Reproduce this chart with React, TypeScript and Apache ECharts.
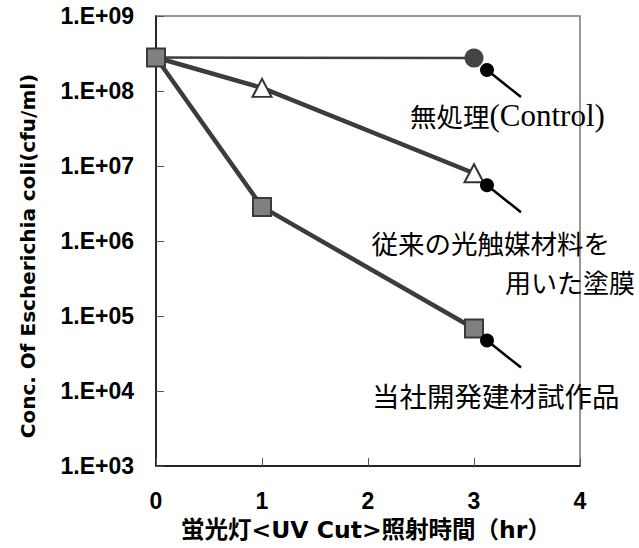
import React, { useEffect, useRef } from "react";
import * as echarts from "echarts";

const xTicks = [0, 1, 2, 3, 4];
const controlX = [0, 3];
const controlY = [2.8e8, 2.75e8];
const conventionalX = [0, 1, 3];
const conventionalY = [2.8e8, 1.1e8, 8.0e6];
const productX = [0, 1, 3];
const productY = [2.8e8, 2.85e6, 6.8e4];
const yAxisName = "Conc. Of Escherichia coli(cfu/ml)";
const xAxisName = "蛍光灯<UV Cut>照射時間（hr）";
const labelControlJa = "無処理";
const labelControlEn = "(Control)";
const labelConv1 = "従来の光触媒材料を";
const labelConv2 = "用いた塗膜";
const labelProduct = "当社開発建材試作品";

const pairs = (xs: number[], ys: number[]) => xs.map((x, i) => [x, ys[i]]);

export default function App() {
  const ref = useRef<HTMLDivElement>(null);
  useEffect(() => {
    if (!ref.current) return;
    const chart = echarts.init(ref.current, null, { renderer: "svg" });
    const lineColor = "#3c3c3c";
    chart.setOption({
      animation: false,
      backgroundColor: "#ffffff",
      grid: {
        left: 156,
        right: 59,
        top: 16,
        bottom: 82,
        containLabel: false,
        outerBoundsMode: "none",
        show: true,
        borderColor: "#777777",
        borderWidth: 1.5,
        backgroundColor: "transparent",
      },
      xAxis: {
        type: "value",
        min: xTicks[0],
        max: xTicks[xTicks.length - 1],
        interval: 1,
        axisLine: { show: true, lineStyle: { color: "#000", width: 1.5 } },
        axisTick: { show: true, inside: true, length: 8, lineStyle: { color: "#555", width: 1 } },
        splitLine: { show: false },
        axisLabel: {
          margin: 25,
          fontFamily: "Liberation Sans",
          fontWeight: "bold",
          fontSize: 23,
          lineHeight: 20,
          color: "#000",
        },
      },
      yAxis: {
        type: "log",
        logBase: 10,
        min: 1e3,
        max: 1e9,
        axisLine: { show: true, lineStyle: { color: "#000", width: 1.5 } },
        axisTick: { show: true, inside: true, length: 8, lineStyle: { color: "#555", width: 1 } },
        splitLine: { show: false },
        minorTick: { show: false },
        axisLabel: {
          margin: 22,
          fontFamily: "Liberation Sans",
          fontWeight: "bold",
          fontSize: 23,
          color: "#000",
          formatter: (v: number) => {
            const e = Math.round(Math.log10(v));
            return "1.E+" + (e < 10 ? "0" + e : String(e));
          },
        },
      },
      series: [
        {
          type: "line",
          data: pairs(controlX, controlY),
          symbol: (v: number[]) => (v[0] === 0 ? "none" : "circle"),
          symbolSize: 19,
          lineStyle: { color: lineColor, width: 2.5 },
          itemStyle: { color: "#444444", borderColor: "#444444", borderWidth: 0 },
          z: 2,
        },
        {
          type: "line",
          data: pairs(conventionalX, conventionalY),
          symbol: (v: number[]) => (v[0] === 0 ? "none" : "triangle"),
          symbolSize: [19, 18],
          lineStyle: { color: lineColor, width: 4.5 },
          itemStyle: { color: "#ffffff", borderColor: "#333333", borderWidth: 2 },
          z: 3,
        },
        {
          type: "line",
          data: pairs(productX, productY),
          symbol: "rect",
          symbolSize: 18,
          lineStyle: { color: lineColor, width: 4.5 },
          itemStyle: { color: "#808080", borderColor: "#3a3a3a", borderWidth: 2 },
          z: 4,
        },
      ],
    });

    const toPx = (x: number, y: number) =>
      chart.convertToPixel({ xAxisIndex: 0, yAxisIndex: 0 }, [x, y]) as number[];
    const callout = (x: number, y: number) => {
      const p = toPx(x, y);
      return [
        {
          type: "line",
          shape: { x1: p[0] + 13, y1: p[1] + 12, x2: p[0] + 47, y2: p[1] + 39 },
          style: { stroke: "#000", lineWidth: 2.5 },
          z: 10,
        },
        {
          type: "circle",
          shape: { cx: p[0] + 13, cy: p[1] + 12, r: 7 },
          style: { fill: "#000" },
          z: 10,
        },
      ];
    };
    const jaFont = "Noto Sans CJK JP";
    chart.setOption({
      graphic: [
        ...callout(controlX[1], controlY[1]),
        ...callout(conventionalX[2], conventionalY[2]),
        ...callout(productX[2], productY[2]),
        {
          type: "text",
          x: 28,
          y: 256,
          rotation: Math.PI / 2,
          z: 11,
          style: {
            text: yAxisName,
            fontFamily: "DejaVu Sans",
            fontWeight: "bold",
            fontSize: 20,
            fill: "#000",
            align: "center",
            verticalAlign: "middle",
          },
        },
        {
          type: "text",
          x: 366,
          y: 530,
          z: 11,
          style: {
            text: xAxisName,
            fontFamily: "DejaVu Sans, Noto Sans CJK JP",
            fontWeight: "bold",
            fontSize: 23.5,
            fill: "#000",
            align: "center",
            verticalAlign: "middle",
          },
        },
        {
          type: "text",
          x: 410,
          y: 115,
          z: 11,
          style: {
            text: "{a|" + labelControlJa + "}{b|" + labelControlEn + "}",
            verticalAlign: "middle",
            align: "left",
            rich: {
              a: { fontFamily: jaFont, fontSize: 26.5, fill: "#000" },
              b: { fontFamily: "Liberation Serif", fontSize: 31, fill: "#000" },
            },
          },
        },
        {
          type: "text",
          x: 610,
          y: 242,
          z: 11,
          style: {
            text: labelConv1,
            fontFamily: jaFont,
            fontSize: 26.5,
            fill: "#000",
            align: "right",
            verticalAlign: "middle",
          },
        },
        {
          type: "text",
          x: 635,
          y: 281,
          z: 11,
          style: {
            text: labelConv2,
            fontFamily: jaFont,
            fontSize: 26,
            fill: "#000",
            align: "right",
            verticalAlign: "middle",
          },
        },
        {
          type: "text",
          x: 372,
          y: 395,
          z: 11,
          style: {
            text: labelProduct,
            fontFamily: jaFont,
            fontSize: 27.5,
            fill: "#000",
            align: "left",
            verticalAlign: "middle",
          },
        },
      ],
    });
    return () => chart.dispose();
  }, []);
  return <div ref={ref} style={{ width: 639, height: 548, position: "absolute", left: 0, top: 0 }} />;
}
